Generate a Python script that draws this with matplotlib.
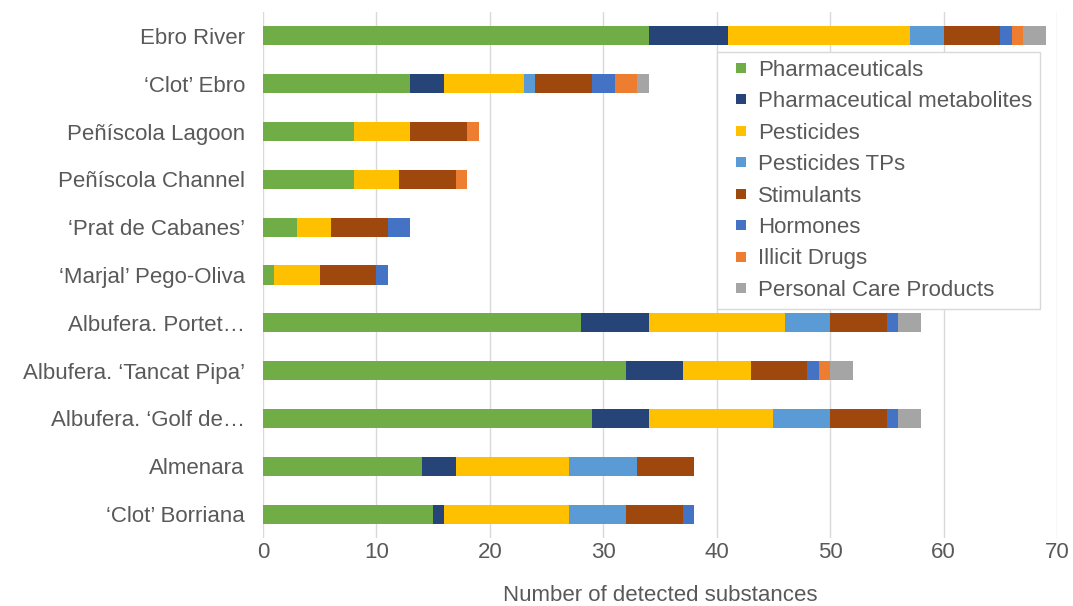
import matplotlib.pyplot as plt
from matplotlib.lines import Line2D
import numpy as np

plt.rcParams['font.family'] = ['Liberation Sans', 'DejaVu Sans']

# sites, top to bottom as in the chart
sites = ['Ebro River', '\u2018Clot\u2019 Ebro', 'Peñíscola Lagoon', 'Peñíscola Channel',
         '\u2018Prat de Cabanes\u2019', '\u2018Marjal\u2019 Pego-Oliva', 'Albufera. Portet\u2026',
         'Albufera. \u2018Tancat Pipa\u2019', 'Albufera. \u2018Golf de\u2026', 'Almenara',
         '\u2018Clot\u2019 Borriana']

# number of detected substances per group (same site order)
pharmaceuticals = [34, 13, 8, 8, 3, 1, 28, 32, 29, 14, 15]
pharma_metabolites = [7, 3, 0, 0, 0, 0, 6, 5, 5, 3, 1]
pesticides = [16, 7, 5, 4, 3, 4, 12, 6, 11, 10, 11]
pesticides_tps = [3, 1, 0, 0, 0, 0, 4, 0, 5, 6, 5]
stimulants = [5, 5, 5, 5, 5, 5, 5, 5, 5, 5, 5]
hormones = [1, 2, 0, 0, 2, 1, 1, 1, 1, 0, 1]
illicit_drugs = [1, 2, 1, 1, 0, 0, 0, 1, 0, 0, 0]
personal_care = [2, 1, 0, 0, 0, 0, 2, 2, 2, 0, 0]

groups = ['Pharmaceuticals', 'Pharmaceutical metabolites', 'Pesticides', 'Pesticides TPs',
          'Stimulants', 'Hormones', 'Illicit Drugs', 'Personal Care Products']
series = [pharmaceuticals, pharma_metabolites, pesticides, pesticides_tps,
          stimulants, hormones, illicit_drugs, personal_care]
colors = ['#70AD47', '#264478', '#FFC000', '#5B9BD5', '#9E480E', '#4472C4', '#ED7D31', '#A5A5A5']

fig = plt.figure(figsize=(10.73, 6.06), dpi=100)
ax = fig.add_axes([0.2451, 0.1122, 0.7400, 0.8680])

y = np.arange(len(sites))
left = np.zeros(len(sites))
for name, vals, col in zip(groups, series, colors):
    vals = np.array(vals, dtype=float)
    ax.barh(y, vals, left=left, height=0.4, color=col, label=name, zorder=3)
    left += vals

ax.set_xlim(0, 70)
ax.set_ylim(len(sites) - 0.5, -0.5)
ax.set_yticks(y)
ax.set_yticklabels(sites)
ax.set_xticks(range(0, 71, 10))

ax.grid(axis='x', color='#D9D9D9', linewidth=1, zorder=0)
for s in ax.spines.values():
    s.set_visible(False)
ax.tick_params(length=0, labelsize=16, colors='#595959')
ax.tick_params(axis='x', pad=3)
ax.tick_params(axis='y', pad=13)
ax.set_xlabel('Number of detected substances', fontsize=16, color='#595959', labelpad=16)

# square markers as legend keys (small squares like Excel)
handles = [Line2D([], [], marker='s', linestyle='none', markersize=7.5,
                  markeredgewidth=0, color=c) for c in colors]
leg = ax.legend(handles, groups, loc='upper left', bbox_to_anchor=(0.572, 0.924), fontsize=16,
                handlelength=1.4, handletextpad=0.1,
                labelspacing=0.47, borderpad=0.35, borderaxespad=0, fancybox=False,
                framealpha=1, edgecolor='#D9D9D9', labelcolor='#595959')
leg.get_frame().set_linewidth(1)

fig.savefig('out.png', dpi=100, facecolor='white')
